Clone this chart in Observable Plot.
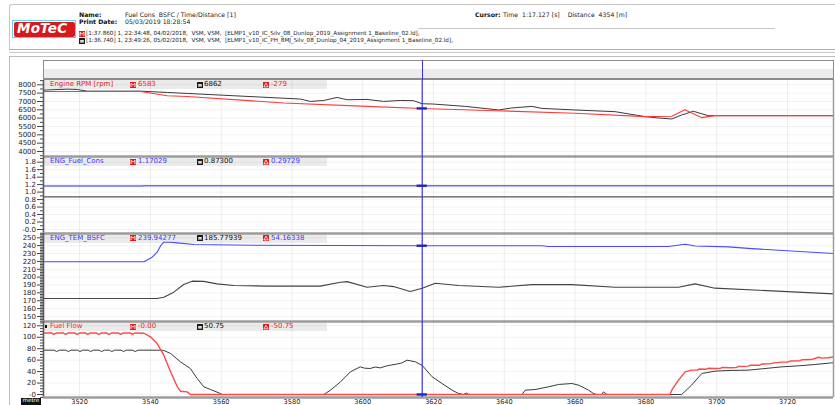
<!DOCTYPE html>
<html>
<head>
<meta charset="utf-8">
<script src="https://cdn.jsdelivr.net/npm/d3@7"></script>
<script src="https://cdn.jsdelivr.net/npm/@observablehq/plot@0.6"></script>
<style>
  html, body { margin: 0; padding: 0; background: #fff; }
  #page { position: relative; width: 835px; height: 405px; overflow: hidden; font-family: "DejaVu Sans", sans-serif; color: #222; }
  .a { position: absolute; white-space: nowrap; line-height: 1; }
  .box { position: absolute; box-sizing: border-box; }
  .plot { position: absolute; left: 0; overflow: visible; }
</style>
</head>
<body>
<div id="page"></div>
<script>
// ---- Distance axis (metres) ----
const distanceDomain = [3509.8, 3733];
const distanceTicks = [3520, 3540, 3560, 3580, 3600, 3620, 3640, 3660, 3680, 3700, 3720];
const distanceTickLabels = ["3520", "3540", "3560", "3580", "3600", "3620", "3640", "3660", "3680", "3700", "3720"];
const cursorDistance = 3616.8;

// ---- Engine RPM ----
const rpmTicks = [4000, 4500, 5000, 5500, 6000, 6500, 7000, 7500, 8000];
const rpmTickLabels = ["4000", "4500", "5000", "5500", "6000", "6500", "7000", "7500", "8000"];
const rpmMinorTicks = [3750, 4250, 4750, 5250, 5750, 6250, 6750, 7250, 7750, 8250];
const rpmReference = [
  [3509.8, 7600], [3537.2, 7600], [3544.7, 7343], [3550.4, 7300], [3577.7, 6907],
  [3601.2, 6706], [3616.8, 6583], [3637.4, 6448], [3660, 6290], [3679.8, 6090],
  [3687.3, 6110], [3691, 6507], [3695.8, 6030], [3699.5, 6150], [3733, 6150]
];
const rpmCompare = [
  [3509.8, 7680], [3516.5, 7740], [3519.3, 7720], [3522.2, 7620], [3537.2, 7620],
  [3544.8, 7540], [3550.4, 7483], [3563.6, 7343], [3582.4, 7145], [3585.2, 7003],
  [3589, 7060], [3592.7, 7243], [3595.6, 7104], [3601.2, 7124], [3605.9, 7003],
  [3610.6, 7060], [3614.4, 7045], [3616.8, 6862], [3619.6, 6850], [3629, 6706],
  [3638.4, 6490], [3642.1, 6610], [3647.8, 6706], [3650.6, 6585], [3660, 6490],
  [3671.3, 6388], [3679.8, 6090], [3683.5, 6010], [3687.3, 5950], [3690.1, 6190],
  [3693.4, 6412], [3697.6, 6150], [3733, 6150]
];

// ---- ENG_Fuel_Cons ----
const consTicks = [0, 0.2, 0.4, 0.6, 0.8, 1.0, 1.2, 1.4, 1.6, 1.8];
const consTickLabels = ["-0.0", "0.2", "0.4", "0.6", "0.8", "1.0", "1.2", "1.4", "1.6", "1.8"];
const consMinorTicks = [-0.1, 0.1, 0.3, 0.5, 0.7, 0.9, 1.1, 1.3, 1.5, 1.7, 1.9];
const consReference = [[3509.8, 1.162], [3537.8, 1.162], [3538.0, 1.17029], [3733, 1.17029]];
const consCompare = [[3509.8, 0.873], [3733, 0.873]];

// ---- ENG_TEM_BSFC ----
const bsfcTicks = [150, 160, 170, 180, 190, 200, 210, 220, 230, 240, 250];
const bsfcTickLabels = ["150", "160", "170", "180", "190", "200", "210", "220", "230", "240", "250"];
const bsfcMinorTicks = [144, 146, 148, 152, 154, 156, 158, 162, 164, 166, 168, 172, 174, 176, 178,
  182, 184, 186, 188, 192, 194, 196, 198, 202, 204, 206, 208, 212, 214, 216, 218, 222, 224, 226, 228,
  232, 234, 236, 238, 242, 244, 246, 248, 252, 254];
const bsfcReference = [
  [3509.8, 219.5], [3538.2, 219.5], [3540.5, 225.4], [3541.9, 231.7], [3542.9, 240],
  [3543.8, 244.4], [3545.7, 244.4], [3547.6, 243.5], [3552.3, 241.5], [3569.2, 240.6],
  [3616.8, 239.94], [3650.6, 239.9], [3652.5, 239], [3686.3, 239], [3691.1, 241.9],
  [3693.9, 239.5], [3703.3, 238.5], [3708.9, 236.5], [3733, 230]
];
const bsfcCompare = [
  [3509.8, 172.8], [3541.9, 172.8], [3543.8, 174.5], [3546.6, 180.9], [3549.4, 190.7],
  [3551.8, 194.9], [3555.1, 194.6], [3558.8, 191.5], [3563.6, 189.4], [3573, 188.6],
  [3588, 188.6], [3593.7, 193.6], [3595.6, 194.3], [3601.2, 187.2], [3605.9, 189.4],
  [3608.7, 188], [3613.4, 181.8], [3616.8, 185.78], [3620.5, 192.3], [3627.1, 189.4],
  [3638.4, 187.2], [3647.8, 190.5], [3659.1, 190.5], [3671.3, 187.2], [3689.2, 187.2],
  [3693.9, 191.5], [3699.5, 186], [3733, 178.8]
];

// ---- Fuel Flow ----
const flowTicks = [0, 20, 40, 60, 80, 100, 120];
const flowTickLabels = ["-0", "20", "40", "60", "80", "100", "120"];
const flowMinorTicks = [-5, 5, 10, 15, 25, 30, 35, 45, 50, 55, 65, 70, 75, 85, 90, 95, 105, 110, 115, 125];
const flowReference = [
  [3509.8, 107.5], [3512.0, 107.5], [3512.7, 105], [3513.5, 107.5], [3515.3, 107.5], [3516.0, 105],
  [3516.8, 107.5], [3518.6, 107.5], [3519.3, 105], [3520.1, 107.5], [3521.6, 107.5], [3522.3, 105],
  [3523.1, 107.5], [3524.7, 107.5], [3525.4, 105], [3526.2, 107.5], [3527.6, 107.5], [3528.3, 105],
  [3529.1, 107.5], [3530.9, 107.5], [3531.6, 105], [3532.4, 107.5], [3534.2, 107.5], [3534.9, 105],
  [3535.7, 107.5], [3538.2, 107], [3540, 100.7], [3541.9, 89], [3543.8, 68.7], [3545.7, 39.6],
  [3547.6, 13.4], [3548.5, 5.8], [3550.4, 4.6], [3551.3, 0], [3686.8, 0], [3687.3, 7.6],
  [3689.2, 25], [3691.1, 39.6], [3692.9, 42.5], [3694.5, 42.8], [3695.2, 44.5], [3697, 44],
  [3697.6, 45.8], [3699.5, 45.4], [3701, 45.6], [3701.6, 47.2], [3704, 46.8], [3705.5, 47],
  [3706.2, 49], [3708.9, 49.5], [3709.6, 51.2], [3712, 51], [3712.7, 53.2], [3715, 53.5],
  [3716.2, 55.2], [3718.4, 56.5], [3720, 56.5], [3720.8, 58.4], [3723.5, 59], [3724.2, 60.8],
  [3726.5, 61], [3727.8, 62.9], [3728.6, 65], [3729.8, 63.5], [3731.5, 64.2], [3733, 65.8]
];
const flowCompare = [
  [3509.8, 77.4], [3512.8, 77.4], [3513.5, 75], [3514.3, 77.4], [3516.1, 77.4], [3516.8, 75],
  [3517.6, 77.4], [3519.4, 77.4], [3520.1, 75], [3520.9, 77.4], [3522.4, 77.4], [3523.1, 75],
  [3523.9, 77.4], [3525.5, 77.4], [3526.2, 75], [3527.0, 77.4], [3528.4, 77.4], [3529.1, 75],
  [3529.9, 77.4], [3531.7, 77.4], [3532.4, 75], [3533.2, 77.4], [3535.0, 77.4], [3535.7, 75],
  [3536.5, 77.4], [3541.9, 77.4], [3543.8, 77], [3545.7, 71.6], [3548.5, 57], [3551.3, 45.4],
  [3553.2, 28], [3555.1, 13.4], [3557, 8.7], [3559.8, 1.7], [3560.3, 0], [3589, 0],
  [3590.9, 7.6], [3593.7, 22], [3596.5, 39.6], [3599.3, 48.3], [3600.5, 46], [3602.1, 45.4],
  [3603.5, 48], [3605, 46.5], [3606.5, 49.5], [3607.8, 51.2], [3609.5, 53], [3611, 55],
  [3612.5, 60], [3614.9, 57], [3616.8, 50.75], [3619.6, 30.9], [3622.4, 19.2], [3625.2, 7.6],
  [3627.1, 1.7], [3628.5, 0], [3629.3, 2.5], [3630, 0], [3645, 0], [3645.9, 7.6],
  [3648.7, 8.7], [3652.5, 13.4], [3655.3, 17.5], [3659.1, 19.2], [3661, 16.3], [3663.8, 7.6],
  [3665.2, 1.7], [3666.1, 0], [3667.5, 0], [3668, 4.6], [3669, 0], [3690.1, 0],
  [3692.9, 16.3], [3695.8, 36.7], [3699.5, 40.8], [3704, 42], [3708.9, 42.5], [3713, 45],
  [3718.4, 48.3], [3723, 50], [3727.8, 52.4], [3732.5, 55.3], [3733, 55.3]
];

// ---- Cursor readouts shown in each channel's header bar ----
const channelNames = ["Engine RPM [rpm]", "ENG_Fuel_Cons", "ENG_TEM_BSFC", "Fuel Flow"];
const referenceReadouts = [6583, 1.17029, 239.94277, -0.0];
const referenceText = ["6583", "1.17029", "239.94277", "-0.00"];
const compareText = ["6862", "0.87300", "185.77939", "50.75"];
const deltaText = ["-279", "0.29729", "54.16338", "-50.75"];

const RED = "#ff3a3a", BLUE = "#4a4aff", DARK = "#3a3a3a", CURSOR = "#3434e6";

const page = document.getElementById("page");

function el(tag, cls, style, html) {
  const e = document.createElement(tag);
  if (cls) e.className = cls;
  Object.assign(e.style, style);
  if (html !== undefined) e.innerHTML = html;
  page.appendChild(e);
  return e;
}
function text(str, left, top, size, color, extra) {
  return el("div", "a", Object.assign({left: left + "px", top: top + "px", fontSize: size + "px", color}, extra || {}), str);
}
function icon(kind, left, top) {
  let inner;
  if (kind === "m") inner = `<rect width="6" height="6" fill="#e01e1e"/><path d="M1 5V1.3L3 3.2L5 1.3V5" fill="none" stroke="#fff" stroke-width="0.9"/>`;
  else if (kind === "c") inner = `<rect width="6" height="6" fill="#1c1c1c"/><rect x="1.2" y="2" width="3.6" height="2.6" fill="#ddd"/>`;
  else inner = `<rect width="6" height="6" fill="#e01e1e"/><path d="M3 1.1L5.1 4.9H0.9Z" fill="none" stroke="#fff" stroke-width="0.8"/>`;
  return el("div", "a", {left: left + "px", top: top + "px"}, `<svg width="6" height="6" style="display:block">${inner}</svg>`);
}

// ---------- Header ----------
el("div", "box", {left: "9px", top: "4px", width: "826px", height: "45px", borderTop: "1px solid #c4c4c4", borderLeft: "1px solid #c4c4c4", borderTopLeftRadius: "3px"});
el("div", "box", {left: "9px", top: "49px", width: "826px", height: "4px", borderTop: "1px solid #b0b0b0", borderBottom: "1px solid #c8c8c8"});
el("div", "box", {left: "418px", top: "28px", width: "357px", height: "1px", background: "#c8c8c8"});
// logo
el("div", "box", {left: "12px", top: "20px", width: "64px", height: "18px", border: "1px solid #5fd3e8", background: "#fff"});
el("div", "box", {left: "13.5px", top: "21.5px", width: "61px", height: "15px", background: "#d7191f", borderRadius: "2px"});
text("MoTeC", 17, 22, 13.5, "#fff", {fontWeight: "bold", fontStyle: "italic", letterSpacing: "0.2px"});
// name / date
text("Name:", 79, 12, 6.2, "#111", {fontWeight: "bold"});
text("Fuel Cons&nbsp;&nbsp;BSFC / Time/Distance [1]", 125, 12, 6.2, "#222");
text("Print Date:", 79, 19, 6.2, "#111", {fontWeight: "bold"});
text("05/03/2019 18:28:54", 125, 19, 6.2, "#222");
// cursor readout
text("Cursor:", 475, 12, 6.2, "#111", {fontWeight: "bold"});
text("Time&nbsp;&nbsp;1:17.127 [s]&nbsp;&nbsp;&nbsp;&nbsp;Distance&nbsp;&nbsp;4354 [m]", 503, 12, 6.2, "#222");
// outing lines
icon("m", 79, 30.5);
text("[1:37.860] 1, 22:34:48, 04/02/2018,&nbsp;&nbsp;VSM, VSM,&nbsp;&nbsp;[ELMP1_v10_IC_Silv_08_Dunlop_2019_Assignment 1_Baseline_02.ld],", 86, 31, 5.65, "#222");
icon("c", 79, 37.5);
text("[1:36.740] 1, 23:49:26, 05/02/2018,&nbsp;&nbsp;VSM, VSM,&nbsp;&nbsp;[ELMP1_v10_IC_PH_8MJ_Silv_08_Dunlop_04_2019_Assignment 1_Baseline_02.ld],", 86, 38, 5.65, "#222");

// ---------- Chart frame and top bars ----------
el("div", "box", {left: "9px", top: "56px", width: "826px", height: "352px", borderTop: "1px solid #bdbdbd", borderLeft: "1px solid #bdbdbd"});
el("div", "box", {left: "42.5px", top: "59.5px", width: "791px", height: "10px", border: "1px solid #8c8c8c", borderBottom: "1.5px solid #8c8c8c", background: "#fff"});
el("div", "box", {left: "42.5px", top: "69px", width: "791px", height: "11px", border: "1px solid #8c8c8c", borderTop: "none", borderBottom: "2px solid #8c8c8c", background: "#ececec"});

// ---------- Channel panels ----------
const panels = [
  {top: 80, height: 76, domain: [3700, 8258], ticks: rpmTicks, labels: rpmTickLabels, minor: rpmMinorTicks,
   series: [{data: rpmCompare, stroke: DARK, w: 1}, {data: rpmReference, stroke: RED, w: 1.1}],
   nameColor: "#e82020", bar: 80},
  {top: 156, height: 77, domain: [-0.107, 1.952], ticks: consTicks, labels: consTickLabels, minor: consMinorTicks,
   series: [{data: consCompare, stroke: "#555", w: 1.2}, {data: consReference, stroke: "#6a6aff", w: 1.4}],
   nameColor: "#3a3aff", bar: 157},
  {top: 233, height: 88, domain: [143.65, 255.46], ticks: bsfcTicks, labels: bsfcTickLabels, minor: bsfcMinorTicks,
   series: [{data: bsfcCompare, stroke: "#444", w: 1.1}, {data: bsfcReference, stroke: BLUE, w: 1.1}],
   nameColor: "#3a3aff", bar: 233.5},
  {top: 321, height: 76, domain: [-5.24, 127.5], ticks: flowTicks, labels: flowTickLabels, minor: flowMinorTicks,
   series: [{data: flowCompare, stroke: DARK, w: 1}, {data: flowReference, stroke: "#ff4848", w: 1.4}],
   nameColor: "#ff2a2a", bar: 322, axis: true}
];

// readout bars sit beneath the traces
panels.forEach((p, i) => {
  el("div", "box", {left: "43.5px", top: p.bar + "px", width: "283px", height: "9px", background: "#ebebeb"});
  const ty = p.bar + 1.2;
  const valColor = i === 0 || i === 3 ? "#ff2020" : "#3a3aff";
  if (i === 3) el("div", "box", {left: "44.5px", top: (p.bar + 3.2) + "px", width: "2.5px", height: "2.5px", background: "#111"});
  text(channelNames[i], 50, ty, 7, p.nameColor);
  icon("m", 130, p.bar + 1.5);
  text(referenceText[i], 138, ty, 7, valColor);
  icon("c", 196.5, p.bar + 1.5);
  text(compareText[i], 204, ty, 7, "#111");
  icon("d", 263, p.bar + 1.5);
  text(deltaText[i], 271, ty, 7, valColor);
});

const distanceLabelOf = new Map(distanceTicks.map((t, k) => [t, distanceTickLabels[k]]));
let xScale = null;
panels.forEach((p, i) => {
  const labelOf = new Map(p.ticks.map((t, k) => [t, p.labels[k]]));
  const marks = [
    Plot.gridX(distanceTicks, {stroke: "#000", strokeOpacity: 0.07}),
    Plot.gridY(p.ticks, {stroke: "#000", strokeOpacity: 0.05}),
    Plot.axisY(p.minor.filter(v => v > p.domain[0] && v < p.domain[1]), {tickSize: 3, tickFormat: () => "", label: null, stroke: "#444"}),
    Plot.axisY(p.ticks, {tickSize: 6, tickPadding: 1.5, tickFormat: d => labelOf.get(d), label: null, stroke: "#444"}),
    ...p.series.map(s => Plot.line(s.data, {x: d => d[0], y: d => d[1], stroke: s.stroke, strokeWidth: s.w, curve: "linear"})),
    Plot.ruleX([distanceDomain[0]], {stroke: "#5a5a5a", strokeWidth: 1.6}),
    Plot.ruleX([distanceDomain[1]], {stroke: "#9a9a9a", strokeWidth: 1.5}),
    Plot.ruleY([p.domain[0]], {stroke: "#9c9c9c", strokeWidth: 2.6}),
    Plot.ruleX([cursorDistance], {stroke: CURSOR, strokeWidth: 1.2}),
    Plot.ruleY([referenceReadouts[i]], {x1: cursorDistance - 1.45, x2: cursorDistance + 1.45, stroke: "#2626b8", strokeWidth: 2.4})
  ];
  if (p.axis) marks.push(Plot.axisX(distanceTicks, {tickSize: 0, tickPadding: 1.5, label: null, fontSize: 6.6, tickFormat: d => distanceLabelOf.get(d)}));
  const chart = Plot.plot({
    width: 835, height: p.height,
    marginLeft: 43, marginRight: 2, marginTop: 0, marginBottom: 0,
    x: p.axis ? {domain: distanceDomain} : {domain: distanceDomain, axis: null},
    y: {domain: p.domain},
    style: {background: "transparent", fontFamily: "DejaVu Sans", fontSize: "7px", color: "#222", overflow: "visible"},
    marks
  });
  chart.classList.add("plot");
  chart.style.top = p.top + "px";
  page.appendChild(chart);
  if (!xScale) xScale = chart.scale("x");
});

// cursor continues through the top bars
const cx = Math.round(xScale.apply(cursorDistance));
el("div", "box", {left: cx + "px", top: "60px", width: "1px", height: "20px", background: CURSOR, zIndex: 5});

// distance unit tag
el("div", "box", {left: "21px", top: "397.5px", width: "20px", height: "7.5px", background: "#111"});
text("metre", 22.5, 398.3, 5.6, "#fff");
</script>
</body>
</html>
